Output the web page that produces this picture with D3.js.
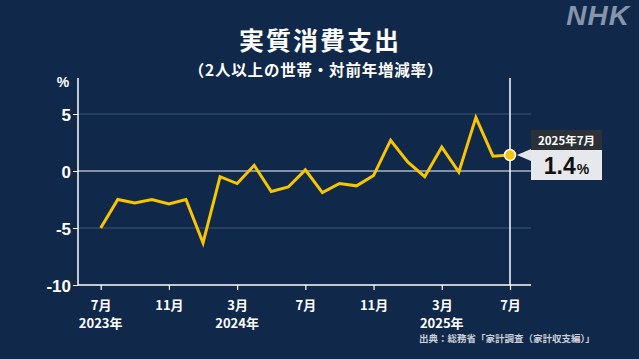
<!DOCTYPE html>
<html><head><meta charset="utf-8">
<script src="https://cdn.jsdelivr.net/npm/d3@7"></script>
<style>
html,body{margin:0;padding:0;background:#10284a;}
svg{display:block;}
</style></head>
<body>
<svg id="chart" width="639" height="359"></svg>
<script>
// ---- data ----
const months = ["2023-07","2023-08","2023-09","2023-10","2023-11","2023-12",
  "2024-01","2024-02","2024-03","2024-04","2024-05","2024-06",
  "2024-07","2024-08","2024-09","2024-10","2024-11","2024-12",
  "2025-01","2025-02","2025-03","2025-04","2025-05","2025-06","2025-07"];
const values = [-5.0,-2.5,-2.8,-2.5,-2.9,-2.5,
  -6.3,-0.5,-1.1,0.5,-1.8,-1.4,
  0.1,-1.9,-1.1,-1.3,-0.4,2.7,
  0.8,-0.5,2.1,-0.1,4.7,1.3,1.4];
const yTicks = [5,0,-5,-10];
const xTickIdx = [0,4,8,12,16,20,24];
const xTickLabels = ["7月","11月","3月","7月","11月","3月","7月"];
const yearLabels = [{i:0,t:"2023年"},{i:8,t:"2024年"},{i:20,t:"2025年"}];
const title = "実質消費支出";
const subtitle = "（2人以上の世帯・対前年増減率）";
const source = "出典：総務省「家計調査（家計収支編）」";
const calloutLabel = "2025年7月";

const svg = d3.select("#chart");
const W = 639, H = 359;
const FONT = "'Liberation Sans','Noto Sans CJK JP',sans-serif";
const JFONT = "'Noto Sans CJK JP','Liberation Sans',sans-serif";

svg.append("rect").attr("width",W).attr("height",H).attr("fill","#10284a");

const x = d3.scaleLinear().domain([0,24]).range([100.7,510]);
const y = d3.scaleLinear().domain([-10,5]).range([285,114]);
const axisLeft = 78, plotRight = 531, plotTop = 78;

// gridlines
svg.append("g").selectAll("line").data(yTicks.filter(d=>d>-10)).join("line")
  .attr("x1",axisLeft).attr("x2",plotRight)
  .attr("y1",d=>y(d)).attr("y2",d=>y(d))
  .attr("stroke",d=>d===0?"#a9b3c3":"#31456a")
  .attr("stroke-width",1.5);

// y axis
const yAxis = svg.append("g").attr("transform",`translate(${axisLeft},0)`)
  .call(d3.axisLeft(y).tickValues(yTicks).tickSize(5).tickFormat(d=>d));
yAxis.select(".domain").remove();
yAxis.selectAll("line").attr("stroke","#ffffff").attr("stroke-width",1);
yAxis.selectAll("text").attr("fill","#ffffff").attr("font-family",FONT)
  .attr("font-weight","bold").attr("font-size",17).attr("x",-7).attr("dy","0.36em");
svg.append("line").attr("x1",axisLeft).attr("x2",axisLeft).attr("y1",plotTop).attr("y2",285)
  .attr("stroke","#ffffff").attr("stroke-width",1.5);
svg.append("text").attr("x",63).attr("y",87).attr("text-anchor","middle")
  .attr("fill","#fff").attr("font-family",FONT).attr("font-weight","bold").attr("font-size",14).text("%");

// x axis
const xAxis = svg.append("g").attr("transform","translate(0,285)")
  .call(d3.axisBottom(x).tickValues(xTickIdx).tickSize(5).tickFormat((d,i)=>xTickLabels[i]));
xAxis.select(".domain").remove();
xAxis.selectAll("line").attr("stroke","#ffffff").attr("stroke-width",1.2);
xAxis.selectAll("text").attr("fill","#ffffff").attr("font-family",JFONT)
  .attr("font-weight","bold").attr("font-size",13).attr("y",16);
svg.append("line").attr("x1",axisLeft).attr("x2",plotRight).attr("y1",285).attr("y2",285)
  .attr("stroke","#ffffff").attr("stroke-width",1.5);
svg.append("g").selectAll("text").data(yearLabels).join("text")
  .attr("x",d=>x(d.i)).attr("y",328).attr("text-anchor","middle")
  .attr("fill","#fff").attr("font-family",JFONT).attr("font-weight","bold").attr("font-size",13)
  .text(d=>d.t);

// vertical marker line at last month
const last = values.length-1;
svg.append("line").attr("x1",x(last)).attr("x2",x(last)).attr("y1",plotTop).attr("y2",285)
  .attr("stroke","#ffffff").attr("stroke-width",1.5);

// line
const line = d3.line().x((d,i)=>x(i)).y(d=>y(d));
svg.append("path").datum(values).attr("d",line).attr("fill","none")
  .attr("stroke","#f8c600").attr("stroke-width",3).attr("stroke-linejoin","miter");

// last point
svg.append("circle").attr("cx",x(last)).attr("cy",y(values[last])).attr("r",5.5)
  .attr("fill","#f8c600").attr("stroke","#ffffff").attr("stroke-width",1.5);

// callout
const cy = y(values[last]);
const bx = 531, bw = 71, bTop = 130, hdrH = 20, bodyH = 30;
svg.append("path").attr("d",`M${bx-14},${cy} L${bx},${cy-6} L${bx},${cy+6} Z`).attr("fill","#e3e5e8");
svg.append("rect").attr("x",bx).attr("y",bTop).attr("width",bw).attr("height",hdrH).attr("fill","#2c3137");
svg.append("rect").attr("x",bx).attr("y",bTop+hdrH).attr("width",bw).attr("height",bodyH).attr("fill","#e6e8eb");
svg.append("text").attr("x",bx+bw/2).attr("y",bTop+15).attr("text-anchor","middle")
  .attr("fill","#fff").attr("font-family",JFONT).attr("font-weight","bold").attr("font-size",11.5).text(calloutLabel);
const vt = svg.append("text").attr("x",bx+bw/2).attr("y",bTop+hdrH+24).attr("text-anchor","middle")
  .attr("fill","#111").attr("font-family",FONT).attr("font-weight","bold");
vt.append("tspan").attr("font-size",23).text(values[last].toFixed(1));
vt.append("tspan").attr("font-size",14).attr("dx",1).text("%");

// titles
svg.append("text").attr("x",320).attr("y",50).attr("text-anchor","middle")
  .attr("fill","#fff").attr("font-family",JFONT).attr("font-weight","bold").attr("font-size",25)
  .attr("letter-spacing",2).text(title);
svg.append("text").attr("x",316).attr("y",76).attr("text-anchor","middle")
  .attr("fill","#fff").attr("font-family",JFONT).attr("font-weight","bold").attr("font-size",15.5)
  .attr("letter-spacing",0.8).text(subtitle);

// source
svg.append("text").attr("x",419).attr("y",342)
  .attr("fill","#c9ced6").attr("font-family",JFONT).attr("font-weight","bold").attr("font-size",9.5).text(source);

// logo
svg.append("text").attr("x",630).attr("y",25).attr("text-anchor","end")
  .attr("fill","#8795aa").attr("font-family",FONT).attr("font-weight","bold").attr("font-style","italic")
  .attr("font-size",28).attr("letter-spacing",1).text("NHK");
</script>
</body></html>
